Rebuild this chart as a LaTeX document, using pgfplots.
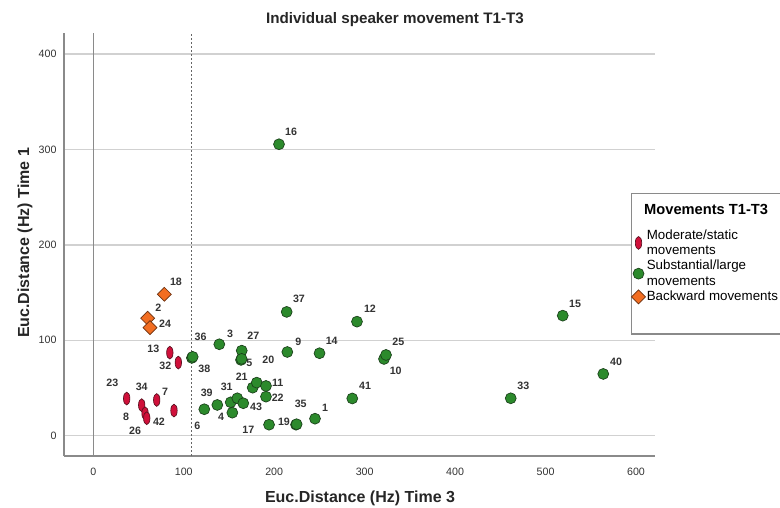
\documentclass[border=0pt]{standalone}
\usepackage{fontspec}
\setmainfont{Liberation Sans}
\usepackage{pgfplots}
\pgfplotsset{compat=1.18}
\definecolor{grn}{HTML}{2C8A2C}
\definecolor{grnedge}{HTML}{1B401B}
\definecolor{redm}{HTML}{D0103A}
\definecolor{redge}{HTML}{5A1020}
\definecolor{orng}{HTML}{F26D21}
\definecolor{orngedge}{HTML}{6A3010}
\definecolor{axgray}{HTML}{8A8A8A}
\definecolor{txt}{HTML}{333333}
\pgfplotsset{
  smallleg/.style={legend image code/.code={\draw[mark repeat=2,mark phase=2,##1] plot coordinates {(0cm,0cm)(0.08cm,0cm)(0.16cm,0cm)};}},
}
\tikzset{lbl/.style={font=\bfseries\fontsize{8}{9}\selectfont, text=txt, inner sep=0pt}}

\begin{document}
\begin{tikzpicture}
\path[use as bounding box] (0,0) rectangle (585pt,380.25pt);
\begin{axis}[
  at={(48pt,38.25pt)}, anchor=south west,
  scale only axis, width=443.25pt, height=317.25pt,
  xmin=-32.4, xmax=621, ymin=-21.3, ymax=422,
  axis lines=left, axis line style={-, draw=axgray, line width=0.8pt},
  xtick={0,100,...,600}, ytick={0,100,...,400},
  tick style={draw=none},
  ymajorgrids, grid style={draw=black!18, line width=1pt},
  tick label style={font=\fontsize{8}{9}\selectfont, text=txt},
  /pgf/number format/assume math mode=true,
  xticklabel style={yshift=-3pt},
  clip=false,
  legend style={at={(0.9594,0.6223)}, anchor=north west, draw=axgray, line width=0.8pt,
    fill=white, font=\fontsize{10}{11.3}\selectfont, cells={align=left, anchor=west},
    inner xsep=0pt, inner ysep=2pt, row sep=-1pt,
    /tikz/every odd column/.append style={column sep=-1pt}},
  legend cell align=left,
]
\draw[axgray, line width=0.8pt] (axis cs:0,-21.3) -- (axis cs:0,422);
\draw[black!60, line width=0.6pt, dash pattern=on 1.5pt off 1.5pt] (axis cs:108.8,-21.3) -- (axis cs:108.8,422);

\addlegendimage{empty legend}
\addlegendentry{\hspace*{-2pt}\rule{0pt}{12pt}\bfseries\fontsize{11}{13}\selectfont Movements T1-T3}
\addlegendimage{empty legend}
\addlegendentry{\rule{0pt}{2.2pt}}

% moderate/static
\addplot[only marks, mark=*, mark size=4.8pt, mark options={xscale=0.5, fill=redm, draw=redge, line width=0.5pt}, smallleg]
coordinates {(84.6,87.0) (94.0,76.6) (36.9,38.9) (53.5,32.0) (70.1,37.4) (57.2,23.5) (59.1,18.3) (89.2,26.3)};
\addlegendentry{Moderate/static\\movements}

% substantial/large
\addplot[only marks, mark=*, mark size=4.1pt, mark options={fill=grn, draw=grnedge, line width=0.5pt}, smallleg]
coordinates {(109.0,81.5) (109.9,82.6) (139.3,95.8) (164.1,89.1) (163.3,79.4) (164.0,80.5)
 (214.5,87.7) (250.1,86.4) (213.8,129.7) (291.5,119.5) (205.3,305.4) (321.4,80.4) (323.6,84.6)
 (286.3,39.0) (519.0,125.8) (563.8,64.7) (461.5,39.2) (176.2,50.3) (180.7,55.6) (190.9,52.1)
 (190.9,40.9) (151.9,35.0) (159.2,39.2) (165.8,34.0) (153.7,24.1) (137.1,32.2) (122.7,27.7)
 (194.3,11.5) (224.1,11.5) (224.8,12.0) (245.1,17.8)};
\addlegendentry{Substantial/large\\movements}

% backward
\addplot[only marks, mark=square*, mark size=3.7pt, mark options={rotate=45, fill=orng, draw=orngedge, line width=0.5pt}, smallleg]
coordinates {(78.5,148.2) (60.1,123.1) (62.7,113.2)};
\addlegendentry{Backward movements}

\addlegendimage{empty legend}
\addlegendentry{\rule{0pt}{15pt}}

% point labels
\node[lbl] at (axis cs:91.4,161.4) {18};
\node[lbl] at (axis cs:71.9,134.2) {2};
\node[lbl] at (axis cs:79.3,117.1) {24};
\node[lbl] at (axis cs:66.3,90.6) {13};
\node[lbl] at (axis cs:79.6,73.1) {32};
\node[lbl] at (axis cs:21.0,54.9) {23};
\node[lbl] at (axis cs:53.5,50.7) {34};
\node[lbl] at (axis cs:79.3,46.1) {7};
\node[lbl] at (axis cs:36.2,19.9) {8};
\node[lbl] at (axis cs:46.1,5.2) {26};
\node[lbl] at (axis cs:72.6,14.7) {42};
\node[lbl] at (axis cs:118.7,103.8) {36};
\node[lbl] at (axis cs:122.7,69.9) {38};
\node[lbl] at (axis cs:125.4,44.4) {39};
\node[lbl] at (axis cs:115.0,10.7) {6};
\node[lbl] at (axis cs:151.1,106.3) {3};
\node[lbl] at (axis cs:176.9,104.5) {27};
\node[lbl] at (axis cs:172.5,75.9) {5};
\node[lbl] at (axis cs:193.5,79.4) {20};
\node[lbl] at (axis cs:226.6,98.7) {9};
\node[lbl] at (axis cs:263.6,99.8) {14};
\node[lbl] at (axis cs:164.1,61.8) {21};
\node[lbl] at (axis cs:203.9,55.6) {11};
\node[lbl] at (axis cs:147.5,50.7) {31};
\node[lbl] at (axis cs:203.9,39.2) {22};
\node[lbl] at (axis cs:179.9,30.4) {43};
\node[lbl] at (axis cs:229.3,33.2) {35};
\node[lbl] at (axis cs:256.2,29.0) {1};
\node[lbl] at (axis cs:141.2,19.3) {4};
\node[lbl] at (axis cs:171.4,6.0) {17};
\node[lbl] at (axis cs:210.8,14.0) {19};
\node[lbl] at (axis cs:227.4,143.0) {37};
\node[lbl] at (axis cs:305.9,132.8) {12};
\node[lbl] at (axis cs:337.2,97.9) {25};
\node[lbl] at (axis cs:334.3,67.8) {10};
\node[lbl] at (axis cs:300.4,52.1) {41};
\node[lbl] at (axis cs:218.6,318.7) {16};
\node[lbl] at (axis cs:532.6,138.1) {15};
\node[lbl] at (axis cs:577.9,77.6) {40};
\node[lbl] at (axis cs:475.4,52.1) {33};
\end{axis}
\node[font=\bfseries\fontsize{11.4}{13}\selectfont, text=black!85] at (296.25pt,365.25pt) {Individual speaker movement T1-T3};
\node[font=\bfseries\fontsize{12}{14}\selectfont, text=black!85] at (270pt,6.75pt) {Euc.Distance (Hz) Time 3};
\node[font=\bfseries\fontsize{12}{14}\selectfont, text=black!85, rotate=90] at (18.75pt,198pt) {Euc.Distance (Hz) Time 1};
\end{tikzpicture}
\end{document}
